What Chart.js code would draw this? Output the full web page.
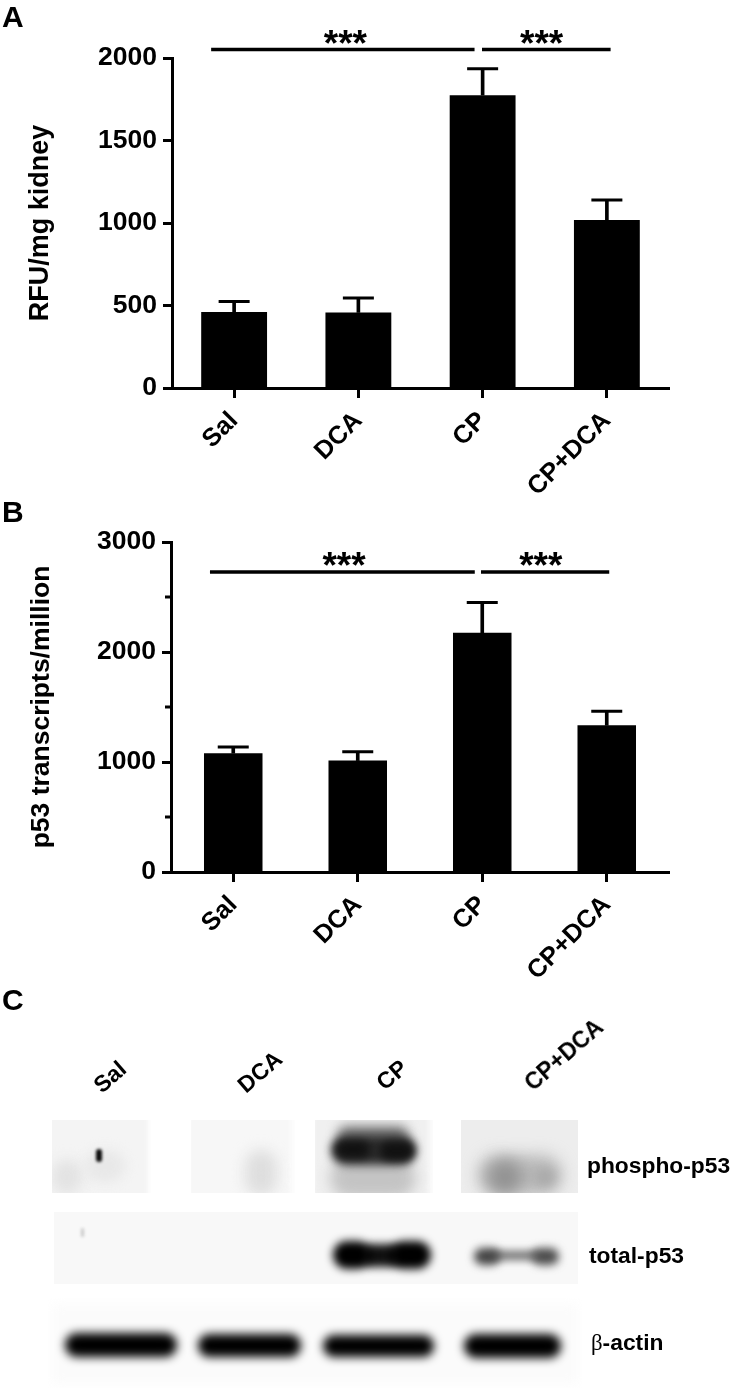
<!DOCTYPE html>
<html>
<head>
<meta charset="utf-8">
<title>Panels A-C</title>
<script src="https://cdn.jsdelivr.net/npm/chart.js@4"></script>
<style>
    html, body { margin: 0; padding: 0; background: #fff; }
    body { position: relative; width: 733px; height: 1390px; overflow: hidden; font-family: "Liberation Sans", Arial, sans-serif; font-weight: bold; color: #000; }
    canvas { position: absolute; left: 0; }
    .txt { position: absolute; white-space: nowrap; line-height: 1; }
    .panel { font-size: 30px; }
    .rot { font-size: 23px; transform: translate(-50%, -50%) rotate(-41deg); }
    .blotLabel { font-size: 22.8px; transform: translateY(-50%); }
    .beta { font-family: "Liberation Serif", serif; font-weight: normal; }
</style>
</head>
<body>
<canvas id="blots" style="top:980px" width="733" height="410"></canvas>
<canvas id="chartA" style="top:0"></canvas>
<canvas id="chartB" style="top:490px"></canvas>

<div class="txt panel" style="left:2px;top:2px">A</div>
<div class="txt panel" style="left:2px;top:497px">B</div>
<div class="txt panel" style="left:2px;top:985px">C</div>

<div class="txt rot" style="left:110px;top:1077px">Sal</div>
<div class="txt rot" style="left:260px;top:1072px">DCA</div>
<div class="txt rot" style="left:392px;top:1075px">CP</div>
<div class="txt rot" style="left:564px;top:1055px">CP+DCA</div>

<div class="txt blotLabel" style="left:587px;top:1165px">phospho-p53</div>
<div class="txt blotLabel" style="left:589px;top:1255px">total-p53</div>
<div class="txt blotLabel" style="left:591px;top:1343px"><span class="beta">β</span>-actin</div>

<script>
const categories = ['Sal', 'DCA', 'CP', 'CP+DCA'];

// panel A
const rfuMeans = [460, 458, 1775, 1018];
const rfuErrTops = [525, 545, 1935, 1140];
const rfuTickStep = 500;
const rfuMax = 2000;

// panel B
const p53Means = [1080, 1013, 2174, 1334];
const p53ErrTops = [1137, 1094, 2450, 1461];
const p53TickStep = 1000;
const p53MinorTicks = [500, 1500, 2500];
const p53Max = 3000;

const FONT = '"Liberation Sans", Arial, sans-serif';
const CANVAS_H = 510; // taller than the panel so the slanted labels are not cut

// significance bars and short ticks, x in category units, y in axis units
const annotate = {
    id: 'annotate',
    afterDatasetsDraw(chart, args, opts) {
        const ctx = chart.ctx, x = chart.scales.x, y = chart.scales.y;
        ctx.save();
        ctx.strokeStyle = '#000';
        ctx.fillStyle = '#000';
        opts.brackets.forEach(b => {
            const py = y.getPixelForValue(b.y);
            ctx.lineWidth = 3.5;
            ctx.beginPath();
            ctx.moveTo(x.getPixelForValue(b.from), py);
            ctx.lineTo(x.getPixelForValue(b.to), py);
            ctx.stroke();
            ctx.font = 'bold 37px ' + FONT;
            ctx.textAlign = 'center';
            ctx.textBaseline = 'alphabetic';
            ctx.fillText('***', x.getPixelForValue(b.star), py + opts.starOffset);
        });
        opts.minorTicks.forEach(v => {
            const py = y.getPixelForValue(v);
            ctx.lineWidth = 3;
            ctx.beginPath();
            ctx.moveTo(chart.chartArea.left - 6, py);
            ctx.lineTo(chart.chartArea.left, py);
            ctx.stroke();
        });
        ctx.restore();
    }
};

function makeChart(id, cfg) {
    const el = document.getElementById(id);
    el.style.width = '733px';
    el.style.height = CANVAS_H + 'px';
    el.width = 733;
    el.height = CANVAS_H;
    return new Chart(el.getContext('2d'), {
        data: {
            labels: categories,
            datasets: [
                { type: 'bar', data: cfg.means, backgroundColor: '#000', grouped: false, barPercentage: cfg.barFrac, categoryPercentage: 1 },
                // error bar stem, then its cap
                { type: 'bar', data: cfg.means.map((m, i) => [m, cfg.tops[i]]), backgroundColor: '#000', grouped: false, barThickness: 3 },
                { type: 'line', data: cfg.tops, showLine: false, pointStyle: 'line', pointRadius: 15.5, pointBorderWidth: 3, pointBorderColor: '#000' }
            ]
        },
        plugins: [annotate],
        options: {
            responsive: false,
            animation: false,
            events: [],
            layout: { padding: { top: cfg.top, right: 733 - cfg.right, left: 0, bottom: 0 } },
            plugins: {
                legend: { display: false },
                tooltip: { enabled: false },
                annotate: { brackets: cfg.brackets, minorTicks: cfg.minorTicks || [], starOffset: cfg.starOffset }
            },
            scales: {
                x: {
                    afterFit: s => { s.height = CANVAS_H - cfg.bottom; },
                    border: { color: '#000', width: 3 },
                    grid: { offset: false, drawOnChartArea: false, color: '#000', tickColor: '#000', tickLength: 10, tickWidth: 3 },
                    ticks: { color: '#000', autoSkip: false, minRotation: 45, maxRotation: 45, padding: 8, font: { family: FONT, size: 25.5, weight: 'bold' } }
                },
                y: {
                    min: 0,
                    max: cfg.max,
                    afterFit: s => { s.width = cfg.left; },
                    border: { color: '#000', width: 3 },
                    grid: { drawOnChartArea: false, color: '#000', tickColor: '#000', tickLength: 9, tickWidth: 3 },
                    ticks: { color: '#000', stepSize: cfg.step, padding: 6, callback: v => String(v), font: { family: FONT, size: 26.5, weight: 'bold' } },
                    title: { display: true, text: cfg.title, color: '#000', padding: { top: cfg.titleX - 15, bottom: 0 }, font: { family: FONT, size: cfg.titleSize, weight: 'bold' } }
                }
            }
        }
    });
}

makeChart('chartA', {
    means: rfuMeans, tops: rfuErrTops, max: rfuMax, step: rfuTickStep,
    left: 172, right: 669, top: 58, bottom: 388, barFrac: 0.53,
    title: 'RFU/mg kidney', titleSize: 27, titleX: 39, starOffset: 6,
    brackets: [
        { from: -0.185, to: 1.935, star: 0.895, y: 2051 },
        { from: 1.995, to: 3.03, star: 2.475, y: 2051 }
    ]
});

makeChart('chartB', {
    means: p53Means, tops: p53ErrTops, max: p53Max, step: p53TickStep, minorTicks: p53MinorTicks,
    left: 171, right: 669, top: 52, bottom: 382, barFrac: 0.47,
    title: 'p53 transcripts/million', titleSize: 26.5, titleX: 41, starOffset: 6,
    brackets: [
        { from: -0.187, to: 1.94, star: 0.89, y: 2728 },
        { from: 1.99, to: 3.02, star: 2.47, y: 2728 }
    ]
});

// panel C is a gel photograph, not data: soft patches on pale strips
const blot = document.getElementById('blots').getContext('2d');

function wash(x, y, w, h, shade, blur) {
    blot.filter = 'blur(' + blur + 'px)';
    blot.fillStyle = shade;
    blot.fillRect(x, y - 980, w, h);
}
function patch(x, y, w, h, shade, blur) {
    blot.filter = 'blur(' + blur + 'px)';
    blot.fillStyle = shade;
    blot.beginPath();
    blot.roundRect(x, y - 980, w, h, Math.min(w, h) / 2);
    blot.fill();
}
function clipTo(x, y, w, h, draw) {
    blot.save();
    blot.beginPath();
    blot.rect(x, y - 980, w, h);
    blot.clip();
    draw();
    blot.restore();
}

// phospho-p53
clipTo(52, 1120, 99, 73, () => {
    wash(46, 1114, 102, 86, '#f4f4f4', 2);
    patch(52, 1160, 30, 34, '#e2e2e2', 7);
    patch(85, 1150, 40, 32, '#e8e8e8', 6);
    patch(96, 1149, 6, 13, '#0c0c0c', 1.5);
});
clipTo(191, 1120, 104, 73, () => {
    wash(188, 1114, 104, 86, '#f7f7f7', 3);
    patch(245, 1150, 32, 46, '#dedede', 7);
});
clipTo(315, 1120, 118, 73, () => {
    wash(312, 1114, 118, 86, '#f0f0f0', 3);
    patch(330, 1158, 86, 40, '#c4c4c4', 7);
    patch(338, 1126, 70, 16, '#777', 6);
    patch(331, 1135, 85, 30, '#2a2a2a', 5);
    patch(336, 1141, 34, 17, '#111', 4);
    patch(380, 1142, 34, 18, '#111', 4);
});
clipTo(461, 1120, 117, 73, () => {
    wash(458, 1114, 122, 86, '#ededed', 1);
    patch(478, 1155, 84, 40, '#b9b9b9', 8);
    patch(488, 1160, 34, 34, '#929292', 8);
    patch(535, 1168, 20, 18, '#a8a8a8', 6);
});

// total-p53
clipTo(54, 1212, 524, 72, () => {
    wash(50, 1208, 532, 80, '#f8f8f8', 1);
    patch(81, 1228, 3, 9, '#c8c8c8', 1.5);
    patch(360, 1244, 42, 23, '#111', 4);
    patch(333, 1241, 38, 28, '#000', 4.5);
    patch(390, 1241, 41, 28, '#000', 4.5);
    patch(490, 1250, 50, 11, '#888', 3.5);
    patch(474, 1248, 26, 17, '#444', 4);
    patch(532, 1248, 27, 17, '#4c4c4c', 4);
});

// beta-actin
clipTo(48, 1298, 534, 90, () => {
    wash(52, 1304, 526, 80, '#fbfbfb', 6);
    patch(65, 1333, 112, 24, '#000', 5);
    patch(198, 1334, 103, 23, '#000', 5);
    patch(323, 1335, 111, 22, '#000', 5);
    patch(464, 1334, 97, 24, '#000', 5);
});
</script>
</body>
</html>
